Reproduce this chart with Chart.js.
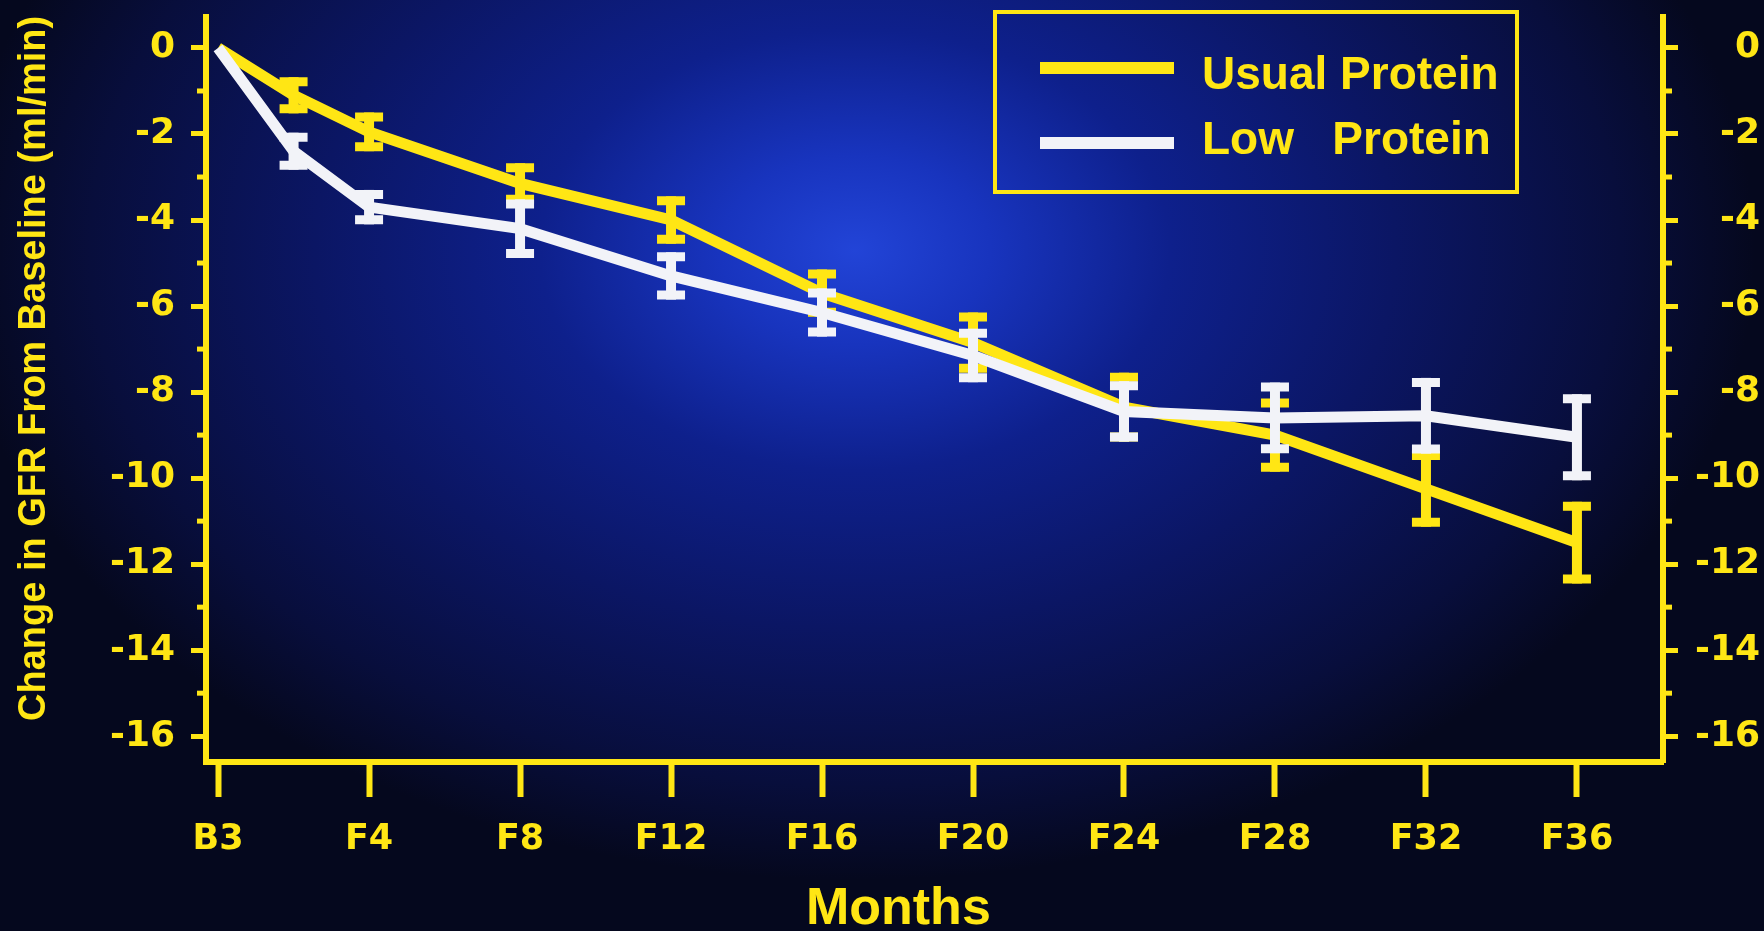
<!DOCTYPE html>
<html>
<head>
<meta charset="utf-8">
<title>Change in GFR From Baseline</title>
<script src="https://cdn.jsdelivr.net/npm/chart.js@4.4.1/dist/chart.umd.min.js"></script>
<style>
  html, body { margin: 0; padding: 0; background: #060a24; }
  #wrap { width: 1764px; height: 931px; position: relative; }
</style>
</head>
<body>
<div id="wrap"><canvas id="gfrChart"></canvas></div>
<script>
// Values (change in GFR, ml/min, mean +/- SE)
const months = [0, 2, 4, 8, 12, 16, 20, 24, 28, 32, 36];
const tickMonths = [0, 4, 8, 12, 16, 20, 24, 28, 32, 36];
const tickLabels = ['B3', 'F4', 'F8', 'F12', 'F16', 'F20', 'F24', 'F28', 'F32', 'F36'];

const seriesNames = ['Usual Protein', 'Low Protein'];
const legendLabels = ['Usual Protein', 'Low   Protein'];

const usualProtein = [0, -1.1, -1.95, -3.15, -4.0, -5.7, -6.85, -8.35, -9.0, -10.25, -11.5];
const usualErr = [0, 0.42, 0.45, 0.47, 0.55, 0.55, 0.7, 0.8, 0.85, 0.88, 0.95];
const lowProtein = [0, -2.4, -3.7, -4.2, -5.3, -6.15, -7.15, -8.45, -8.6, -8.55, -9.05];
const lowErr = [0, 0.43, 0.4, 0.68, 0.55, 0.56, 0.62, 0.7, 0.82, 0.88, 1.0];

const YELLOW = '#ffe614';
const WHITE = '#f2f3f8';

// fond bleu du diapo : tache claire en haut au centre
const fondBleu = {
    id: 'fondBleu',
    beforeDraw(chart) {
        const { ctx, width, height } = chart;
        ctx.save();
        ctx.fillStyle = '#050820';
        ctx.fillRect(0, 0, width, height);
        ctx.translate(855, 250);
        ctx.scale(1, 0.7);
        const g = ctx.createRadialGradient(0, 0, 0, 0, 0, 900);
        g.addColorStop(0, 'rgb(34,68,215)');
        g.addColorStop(0.15, 'rgb(24,52,190)');
        g.addColorStop(0.35, 'rgb(14,32,140)');
        g.addColorStop(0.6, 'rgb(11,22,100)');
        g.addColorStop(0.85, 'rgb(8,14,60)');
        g.addColorStop(1, 'rgb(5,8,30)');
        ctx.fillStyle = g;
        ctx.fillRect(-2000, -2000, 4000, 4000);
        ctx.restore();
    }
};

// barres d'erreur dessinées juste après chaque courbe
const barresErreur = {
    id: 'barresErreur',
    afterDatasetDraw(chart, args) {
        const ds = chart.data.datasets[args.index];
        const yScale = chart.scales.y;
        const ctx = chart.ctx;
        ctx.save();
        ctx.strokeStyle = ds.borderColor;
        ctx.lineCap = 'butt';
        args.meta.data.forEach((pt, j) => {
            const e = ds.errors[j];
            if (!e) return;
            const v = ds.data[j].y;
            const yTop = yScale.getPixelForValue(v + e);
            const yBot = yScale.getPixelForValue(v - e);
            ctx.lineWidth = 10;
            ctx.beginPath();
            ctx.moveTo(pt.x, yTop);
            ctx.lineTo(pt.x, yBot);
            ctx.stroke();
            ctx.lineWidth = 9;
            ctx.beginPath();
            ctx.moveTo(pt.x - 14, yTop + 4.5);
            ctx.lineTo(pt.x + 14, yTop + 4.5);
            ctx.moveTo(pt.x - 14, yBot - 4.5);
            ctx.lineTo(pt.x + 14, yBot - 4.5);
            ctx.stroke();
        });
        ctx.restore();
    }
};

// petites graduations aux valeurs impaires
const graduationsMineures = {
    id: 'graduationsMineures',
    afterDraw(chart) {
        const ctx = chart.ctx;
        const area = chart.chartArea;
        ctx.save();
        ctx.strokeStyle = YELLOW;
        ctx.lineWidth = 5;
        ['y', 'y2'].forEach(id => {
            const scale = chart.scales[id];
            const x0 = id === 'y' ? area.left : area.right;
            const dir = id === 'y' ? -1 : 1;
            scale.ticks.forEach(t => {
                if (Math.abs(t.value) % 2 !== 1) return;
                const y = scale.getPixelForValue(t.value);
                ctx.beginPath();
                ctx.moveTo(x0, y);
                ctx.lineTo(x0 + dir * 9, y);
                ctx.stroke();
            });
        });
        ctx.restore();
    }
};

// légende encadrée en haut à droite
const legendeEncadree = {
    id: 'legendeEncadree',
    afterDraw(chart) {
        const ctx = chart.ctx;
        const rows = [68, 143];
        ctx.save();
        ctx.strokeStyle = YELLOW;
        ctx.lineWidth = 4;
        ctx.strokeRect(995, 12, 522, 180);
        ctx.font = 'bold 46px "Liberation Sans", Arial, sans-serif';
        ctx.textBaseline = 'alphabetic';
        chart.data.datasets.forEach((ds, i) => {
            ctx.strokeStyle = ds.borderColor;
            ctx.lineWidth = 12;
            ctx.beginPath();
            ctx.moveTo(1040, rows[i]);
            ctx.lineTo(1174, rows[i]);
            ctx.stroke();
            ctx.fillStyle = YELLOW;
            ctx.fillText(legendLabels[i], 1202, rows[i] + (i === 0 ? 21 : 11));
        });
        ctx.restore();
    }
};

const tickFont = { family: 'DejaVu Sans', weight: 'bold', size: 36 };

function yAxis(position) {
    return {
        type: 'linear',
        position: position,
        min: -16.6,
        max: 0.72,
        afterFit: s => {
            s.width = position === 'left' ? 206 : 97;
            s.paddingTop = 0;
            s.paddingBottom = 0;
        },
        ticks: {
            stepSize: 1,
            includeBounds: false,
            color: YELLOW,
            font: tickFont,
            padding: position === 'left' ? 16 : 12,
            crossAlign: position === 'left' ? 'near' : 'far',
            callback: v => (Math.abs(v) % 2 === 0 ? (v === 0 ? '0' : String(v)) : '')
        },
        grid: {
            drawOnChartArea: false,
            drawTicks: true,
            tickLength: 15,
            tickWidth: 5,
            tickColor: c => (c.tick && Math.abs(c.tick.value) % 2 === 1 ? 'rgba(0,0,0,0)' : YELLOW)
        },
        border: { display: true, color: YELLOW, width: 6 }
    };
}

const leftAxis = yAxis('left');
leftAxis.title = {
    display: true,
    text: '    Change in GFR From Baseline (ml/min)',
    color: YELLOW,
    font: { family: 'Liberation Sans', weight: 'bold', size: 38 },
    padding: { top: 12, bottom: 0 }
};

new Chart(document.getElementById('gfrChart'), {
    type: 'line',
    data: {
        datasets: [
            {
                label: seriesNames[0],
                data: months.map((m, i) => ({ x: m, y: usualProtein[i] })),
                errors: usualErr,
                borderColor: YELLOW,
                borderWidth: 11,
                pointRadius: 0,
                tension: 0,
                order: 2
            },
            {
                label: seriesNames[1],
                data: months.map((m, i) => ({ x: m, y: lowProtein[i] })),
                errors: lowErr,
                borderColor: WHITE,
                borderWidth: 11,
                pointRadius: 0,
                tension: 0,
                order: 1
            }
        ]
    },
    options: {
        responsive: true,
        maintainAspectRatio: false,
        animation: false,
        devicePixelRatio: 1,
        layout: { autoPadding: false, padding: { top: 17, right: 4, left: 0, bottom: 0 } },
        plugins: {
            legend: { display: false },
            tooltip: { enabled: false }
        },
        scales: {
            x: {
                type: 'linear',
                min: -0.32,
                max: 38.28,
                afterFit: s => { s.height = 169; },
                afterBuildTicks: s => { s.ticks = tickMonths.map(v => ({ value: v })); },
                ticks: {
                    callback: (v, i) => tickLabels[i],
                    color: YELLOW,
                    font: { family: 'DejaVu Sans', weight: 'bold', size: 35 },
                    padding: 22,
                    maxRotation: 0,
                    autoSkip: false
                },
                grid: {
                    drawOnChartArea: false,
                    drawTicks: true,
                    tickLength: 35,
                    tickWidth: 6,
                    tickColor: YELLOW
                },
                border: { display: true, color: YELLOW, width: 6 },
                title: {
                    display: true,
                    text: 'Months     ',
                    color: YELLOW,
                    font: { family: 'Liberation Sans', weight: 'bold', size: 52, lineHeight: 0.84 },
                    padding: { top: 0, bottom: 0 }
                }
            },
            y: leftAxis,
            y2: yAxis('right')
        }
    },
    plugins: [fondBleu, barresErreur, graduationsMineures, legendeEncadree]
});
</script>
</body>
</html>
